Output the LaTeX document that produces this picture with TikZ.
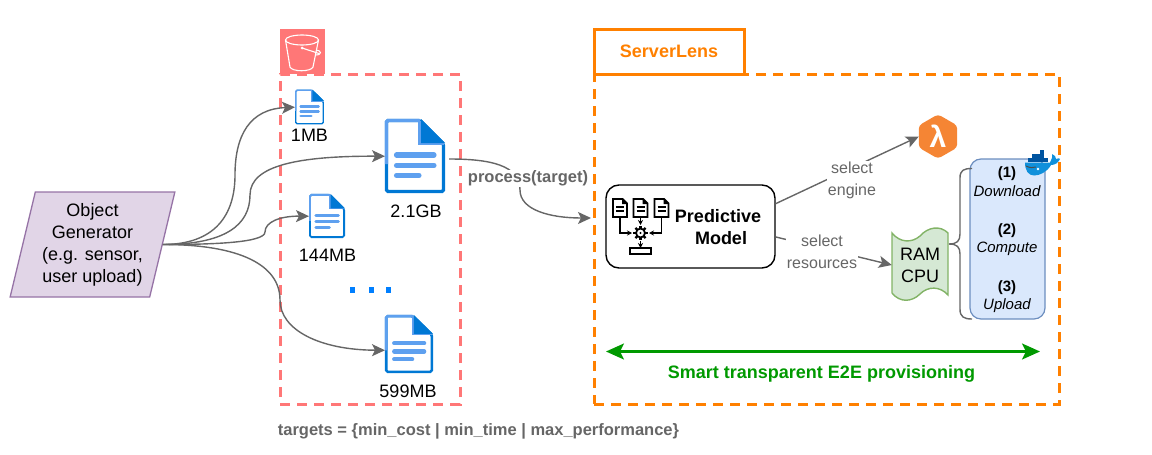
\documentclass[tikz,border=0pt]{standalone}
\usepackage{fontspec}
\setmainfont{Liberation Sans}
\usepackage{xcolor}
\usetikzlibrary{arrows.meta,shapes.geometric}
\definecolor{linegray}{HTML}{666666}
\definecolor{bucketred}{HTML}{FF7777}
\definecolor{lensorange}{HTML}{FF8000}
\definecolor{filedark}{HTML}{0078D4}
\definecolor{filelight}{HTML}{5EA0EF}
\definecolor{dotblue}{HTML}{007FFF}
\definecolor{lambdaorange}{HTML}{F58534}
\definecolor{arrowgreen}{HTML}{009900}
\definecolor{genfill}{HTML}{E1D5E7}
\definecolor{genline}{HTML}{9673A6}
\definecolor{ramfill}{HTML}{D5E8D4}
\definecolor{ramline}{HTML}{82B366}
\definecolor{stagefill}{HTML}{DAE8FC}
\definecolor{stageline}{HTML}{6C8EBF}
\definecolor{whalebody}{HTML}{1090DB}
\definecolor{whalebox}{HTML}{0054A0}
\tikzset{
  txt/.style={font=\fontsize{18}{22}\selectfont,align=center,inner sep=0pt},
  smalltxt/.style={font=\fontsize{16}{22}\selectfont,align=center,inner sep=1pt,text=linegray,fill=white},
  boldgray/.style={font=\fontsize{16.5}{20}\selectfont\bfseries,inner sep=1pt,text=linegray},
  conn/.style={draw=linegray,line width=1.4pt,-{Stealth[length=13pt,width=12pt,inset=3pt]}},
  bracepen/.style={draw=linegray,line width=1.4pt},
  regionbox/.style={draw=#1,line width=3pt,dash pattern=on 10pt off 7pt,minimum height=330pt,inner sep=0pt},
  filebox/.style={inner sep=0pt,anchor=north west},
  iconpen/.style={line width=1.8pt,black},
  iconarrow/.style={iconpen,-{Stealth[length=5pt,width=5pt]}},
  bucketpen/.style={white,line width=1.1pt},
}
\newcommand{\fileicon}[6]{
  \node[filebox,minimum width=#4pt,minimum height=#5pt] (#1) at (#2,#3) {};
  \begin{scope}[shift={(#2,#3)},xscale=#4/60,yscale=#5/74]
    \draw[line width=#6pt,filedark,fill=white,rounded corners=1.5pt] (1.5,1.5) -- (35,1.5) -- (58.5,25) -- (58.5,72.5) -- (1.5,72.5) -- cycle;
    \draw[line width=#6pt,filelight,rounded corners=1.5pt] (1.5,45) -- (1.5,1.5) -- (35,1.5);
    \draw[line width=#6pt,filelight] (35,1.5) -- (35,24) -- (58.5,24);
    \fill[filedark] (36,0) -- (60,24) -- (36,24) -- cycle;
    \foreach \ypos/\xend in {36/49,46.5/49,56.5/34}
      \draw[filelight,line width=#6pt*1.6,line cap=round] (11.5,\ypos) -- (\xend,\ypos);
  \end{scope}
}
\newcommand{\docglyph}[2]{
  \draw[iconpen,fill=white] (#1,#2) -- (#1+9.5,#2) -- (#1+14,#2+4.5) -- (#1+14,#2+18) -- (#1,#2+18) -- cycle;
  \fill (#1+9,#2) -- (#1+14,#2+5) -- (#1+9,#2+5) -- cycle;
  \draw[line width=1.4pt] (#1+3,#2+8) -- (#1+11,#2+8) (#1+3,#2+12) -- (#1+11,#2+12);
}
\begin{document}
\begin{tikzpicture}[x=1pt,y=-1pt]
\useasboundingbox (0,0) rectangle (1152,455);

\node[regionbox=bucketred,minimum width=180pt] (bucketregion) at (370,239) {};
\node[regionbox=lensorange,minimum width=465pt] (lensregion) at (826.5,239) {};

\node[fill=bucketred,minimum width=45pt,minimum height=45pt,inner sep=0pt] (bucket) at (302.5,51.5) {};
\draw[bucketpen] (302,40) ellipse (16.5 and 5);
\draw[bucketpen] (285.5,40) -- (290,67) .. controls (292,72) and (311,72) .. (313,67) -- (318.5,40);
\draw[bucketpen] (302,48) -- (319,53.5);
\draw[bucketpen] (316,50) .. controls (322,50.5) and (322,55) .. (315.5,55);
\fill[white] (302,48) circle (1.5);

\node[draw=lensorange,line width=3pt,minimum width=150pt,minimum height=45pt,inner sep=0pt,font=\fontsize{18}{22}\selectfont\bfseries,text=lensorange] (lenstab) at (669,51.5) {\raisebox{-1pt}{ServerLens}};

\node[draw=genline,fill=genfill,line width=1.3pt,
  shape=trapezium,trapezium left angle=75,trapezium right angle=105,trapezium stretches=true,
  minimum width=165pt,minimum height=105pt,inner sep=0pt,font=\fontsize{18}{22}\selectfont,align=center] (generator) at (92.5,244.5)
  {Object\\Generator\\ (e.g. sensor,\\user upload)};

\fileicon{fileone}{295}{89.5}{29}{35}{1.4}
\fileicon{filetwo}{385}{119}{60}{74}{3.2}
\fileicon{filethree}{309}{194}{36}{44}{1.8}
\fileicon{filefour}{385}{315}{48}{58}{2.6}

\node[txt] (labelone) at (309.5,135.5) {1MB};
\node[txt] (labeltwo) at (416,211) {2.1GB};
\node[txt] (labelthree) at (327.5,255.5) {144MB};
\node[txt] (labelfour) at (408,391) {599MB};

\foreach \xpos in {352.5,371.5,388}
  \fill[dotblue] (\xpos-2.5,287) rectangle (\xpos+2.5,292.5);

\draw[conn] (generator.east) .. controls (215,244.5) and (235,215) .. (235,175) .. controls (235,135) and (250,109) .. (fileone.west);
\draw[conn] (generator.east) .. controls (225,244.5) and (250,225) .. (250,195) .. controls (250,165) and (300,156) .. (filetwo.west);
\draw[conn] (generator.east) .. controls (210,244.5) and (265,243) .. (265,232) .. controls (265,222) and (280,216) .. (filethree.west);
\draw[conn] (generator.east) .. controls (240,244.5) and (280,265) .. (280,300) .. controls (280,330) and (320,350) .. (filefour.194);

\coordinate (processout) at (449,159);
\coordinate (modelin) at (591,218);
\draw[conn] (processout) .. controls (490,159) and (520,165) .. (520,190) .. controls (520,210) and (550,218) .. (modelin);
\node[boldgray,fill=white] (processlabel) at (528,178.5) {process(target)};

\node[draw=black,line width=1.4pt,rounded corners=13pt,minimum width=169pt,minimum height=83pt,inner sep=0pt,fill=white] (model) at (690.5,226.5) {};
\node[font=\fontsize{18}{22}\selectfont\bfseries,align=center,inner sep=0pt] (modellabel) at (718,227.5) {Predictive\\\hspace*{6pt}Model};
\docglyph{613}{199}
\docglyph{633.5}{199}
\docglyph{654.5}{199}
\draw[iconarrow] (620,217) |- (632,233);
\draw[iconarrow] (661.5,217) |- (649,233);
\draw[iconarrow] (640.5,217) -- (640.5,225);
\draw[iconarrow] (640.5,241) -- (640.5,248);
\draw[iconpen] (640.5,233) circle (4.5);
\fill (640.5,233) circle (1.2);
\foreach \ang in {0,45,...,315}
  \draw[line width=2.2pt] (640.5,233) ++(\ang:4.5) -- ++(\ang:2.6);
\draw[iconpen] (630,248) rectangle (651,254);

\node[fill=lambdaorange,draw=lambdaorange,line width=2pt,rounded corners=3pt,shape=regular polygon,regular polygon sides=6,shape border rotate=30,minimum size=42pt,inner sep=0pt,text=white,font=\fontsize{30}{30}\selectfont\bfseries] (lambda) at (938,136.5) {λ};
\draw[conn] (model.15.5) -- (lambda.west);
\node[smalltxt] (enginelabel) at (852,180) {select\\engine};

\draw[fill=ramfill,draw=ramline,line width=1.4pt]
  (892,233) .. controls (900,243) and (912,243) .. (920,236) .. controls (928,227) and (940,225) .. (948,233)
  -- (948,295) .. controls (940,286) and (928,286) .. (920,294) .. controls (912,302) and (900,303) .. (892,293) -- cycle;
\node[txt,minimum width=56pt,minimum height=74pt] (ramcpu) at (920,265) {RAM\\CPU};
\draw[conn] (model.-7.75) -- (ramcpu.west);
\node[smalltxt] (resourcelabel) at (822,251.5) {select\\resources};

\node[draw=stageline,fill=stagefill,line width=1.2pt,rounded corners=11pt,minimum width=75pt,minimum height=160pt,inner sep=0pt] (stages) at (1007.5,239) {};
\coordinate (bracetip) at (949,244);
\coordinate (bracetop) at (972,168.5);
\coordinate (bracebot) at (972,319);
\draw[bracepen] (bracetop) .. controls (964,168.5) and (960,170) .. (960,178) -- (960,234) .. controls (960,241) and (957,244) .. (bracetip);
\draw[bracepen] (bracebot) .. controls (964,319) and (960,317) .. (960,309) -- (960,254) .. controls (960,247) and (957,244) .. (bracetip);

\foreach \ypos/\num/\stage in {173.5/1/Download,230.5/2/Compute,287.5/3/Upload}{
  \node[inner sep=0pt,font=\fontsize{15}{19}\selectfont\bfseries] (num\num) at (1007,\ypos) {(\num)};
  \node[inner sep=0pt,font=\fontsize{15}{19}\selectfont\itshape] (stage\num) at (1007,\ypos+18) {\stage};
}

\fill[whalebody] (1025,162.5) -- (1050,162.5) .. controls (1052,158) and (1053,156) .. (1052,154) .. controls (1055,155) and (1056,157) .. (1056,159) .. controls (1058,158) and (1060,158) .. (1060,159) .. controls (1058,163) and (1055,165) .. (1051,165) .. controls (1047,172) and (1040,175.5) .. (1034,175.5) .. controls (1028,175.5) and (1025,170) .. (1025,162.5) -- cycle;
\foreach \xpos/\ypos in {1028/158,1032/158,1036/158,1040/158,1044/158,1036/154,1040/154,1032/154,1040/150}
  \fill[whalebox] (\xpos+0.3,\ypos) rectangle (\xpos+3.6,\ypos+3.6);
\fill[white] (1038,169) circle (1.4);
\draw[line width=1pt,black!70] (1026,166) .. controls (1030,168) and (1033,168) .. (1036,167);

\coordinate (spanleft) at (606,351.5);
\coordinate (spanright) at (1040,351.5);
\draw[draw=arrowgreen,line width=2.4pt,{Stealth[length=18pt,width=16pt,inset=4pt]}-{Stealth[length=18pt,width=16pt,inset=4pt]}] (spanleft) -- (spanright);
\node[font=\fontsize{18}{22}\selectfont\bfseries,text=arrowgreen,inner sep=0pt] (spanlabel) at (821.5,373.5) {Smart transparent E2E provisioning};

\node[boldgray] (targetlabel) at (478.5,431.5) {targets = \{min\_cost | min\_time | max\_performance\}};
\end{tikzpicture}
\end{document}
